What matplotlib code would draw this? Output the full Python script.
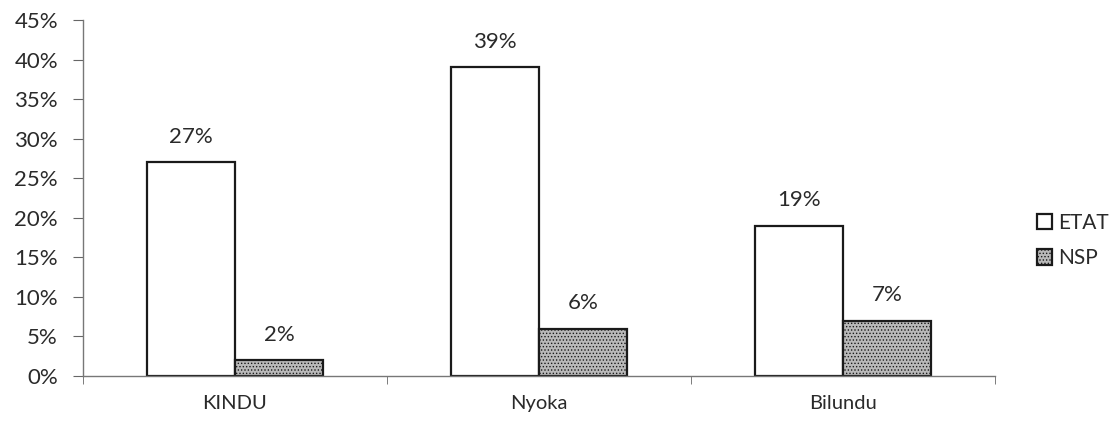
import matplotlib
matplotlib.use("Agg")
import matplotlib.pyplot as plt
import numpy as np
from matplotlib.ticker import MultipleLocator, FuncFormatter

plt.rcParams['font.family'] = ['Lato', 'DejaVu Sans']
plt.rcParams['hatch.color'] = '#8a8a8a'
plt.rcParams['hatch.linewidth'] = 0.6

categories = ["KINDU", "Nyoka", "Bilundu"]
etat = [27, 39, 19]
nsp = [2, 6, 7]
series_names = ["ETAT", "NSP"]

fig = plt.figure(figsize=(11.16, 4.28), dpi=100)
ax = fig.add_axes([83 / 1116, 1 - 376 / 428, 912 / 1116, 356 / 428])

x = np.arange(len(categories))
w = 0.29
edge = '#1a1a1a'
b1 = ax.bar(x - w / 2, etat, w, color='white', edgecolor=edge, linewidth=1.6,
            label=series_names[0])
b2 = ax.bar(x + w / 2, nsp, w, color='#b9b9b9', edgecolor=edge, linewidth=1.6,
            hatch='.....', label=series_names[1])

for bars, vals in ((b1, etat), (b2, nsp)):
    for rect, v in zip(bars, vals):
        ax.annotate(f"{v}%", (rect.get_x() + rect.get_width() / 2, v),
                    xytext=(0, 11), textcoords='offset points',
                    ha='center', va='bottom', fontsize=16, color='#2a2a2a')

ax.set_xlim(-0.5, len(categories) - 0.5)
ax.set_ylim(0, 45)
ax.yaxis.set_major_locator(MultipleLocator(5))
ax.yaxis.set_major_formatter(FuncFormatter(lambda v, p: f"{v:.0f}%"))
ax.set_xticks(x)
ax.set_xticklabels(categories)
ax.set_xticks(np.arange(len(categories) + 1) - 0.5, minor=True)
ax.tick_params(axis='x', which='major', length=0, pad=14, labelsize=14.5,
               labelcolor='#2a2a2a')
ax.tick_params(axis='x', which='minor', length=6, color='#666666')
ax.tick_params(axis='y', length=7, color='#666666', labelsize=16,
               labelcolor='#2a2a2a', pad=11)

for s in ('top', 'right'):
    ax.spines[s].set_visible(False)
for s in ('left', 'bottom'):
    ax.spines[s].set_color('#777777')
    ax.spines[s].set_linewidth(1.0)

leg = fig.legend(handles=[b1, b2], labels=series_names, loc='upper left',
                 bbox_to_anchor=(1018 / 1116, 1 - 194 / 428), frameon=False,
                 fontsize=15, handlelength=0.75, handleheight=0.75,
                 handletextpad=0.3, labelspacing=0.75, labelcolor='#2a2a2a')

fig.savefig("out.png", dpi=100, facecolor='white')
